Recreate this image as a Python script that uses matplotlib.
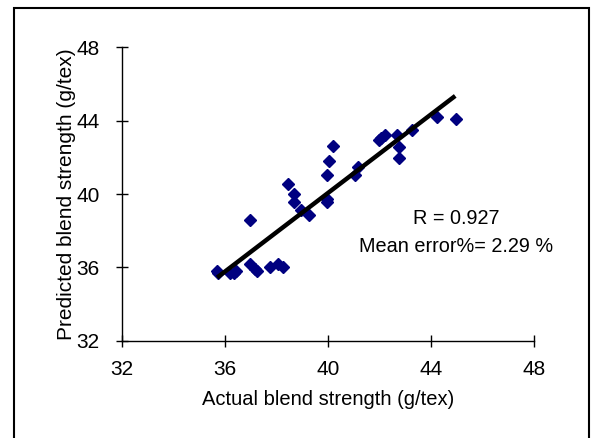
import numpy as np
import matplotlib
matplotlib.use("Agg")
from matplotlib import pyplot as plt
from matplotlib.patches import Rectangle

plt.rcParams['font.family'] = ['Liberation Sans', 'DejaVu Sans']

# actual vs predicted blend strength (g/tex)
actual = [35.68, 35.72, 36.19, 36.45, 36.35, 36.97, 36.97, 37.17, 37.23, 37.75,
          38.07, 38.26, 38.46, 38.69, 38.69, 38.95, 39.26, 39.95, 40.05, 40.21,
          39.95, 39.97, 41.05, 41.18, 41.98, 42.08, 42.21, 42.69, 42.77, 42.77,
          43.28, 44.26, 44.97]
predicted = [35.79, 35.70, 35.68, 35.79, 35.72, 38.56, 36.16, 35.92, 35.79, 36.01,
             36.16, 36.01, 40.53, 40.02, 39.56, 39.15, 38.87, 41.06, 41.79, 42.64,
             39.75, 39.56, 41.02, 41.48, 42.97, 43.08, 43.21, 43.21, 42.54, 41.99,
             43.48, 44.21, 44.08]

# fitted line end points
fit_x = [35.7, 44.95]
fit_y = [35.45, 45.35]

ticks = [32, 36, 40, 44, 48]

fig = plt.figure(figsize=(5.95, 4.38), dpi=100)
ax = fig.add_axes([0.205, 0.222, 0.692, 0.670])

ax.plot(fit_x, fit_y, color='black', lw=3.2, solid_capstyle='butt', zorder=3)
ax.plot(actual, predicted, 'D', color='#000080', markersize=5.8, mec='#000080', zorder=2)

ax.set_xlim(32, 48)
ax.set_ylim(32, 48)
ax.set_xticks(ticks)
ax.set_yticks(ticks)
for s in ['top', 'right']:
    ax.spines[s].set_visible(False)
for s in ['left', 'bottom']:
    ax.spines[s].set_linewidth(1.0)
ax.tick_params(direction='inout', length=8, width=1.0, labelsize=15)
ax.tick_params(axis='x', pad=10)
ax.tick_params(axis='y', pad=12)
ax.set_xlabel('Actual blend strength (g/tex)', fontsize=14.5, labelpad=8)
ax.set_ylabel('Predicted blend strength (g/tex)', fontsize=15, labelpad=0)

ax.text(45.0, 38.67, 'R = 0.927', fontsize=14.3, ha='center', va='center')
ax.text(45.0, 37.14, 'Mean error%= 2.29 %', fontsize=14.3, ha='center', va='center')

fig.patches.append(Rectangle((14 / 595, -0.05), 575 / 595, 1 - 8 / 438 + 0.05,
                             transform=fig.transFigure, fill=False,
                             edgecolor='black', lw=1.5))

fig.savefig('out.png', dpi=100)
